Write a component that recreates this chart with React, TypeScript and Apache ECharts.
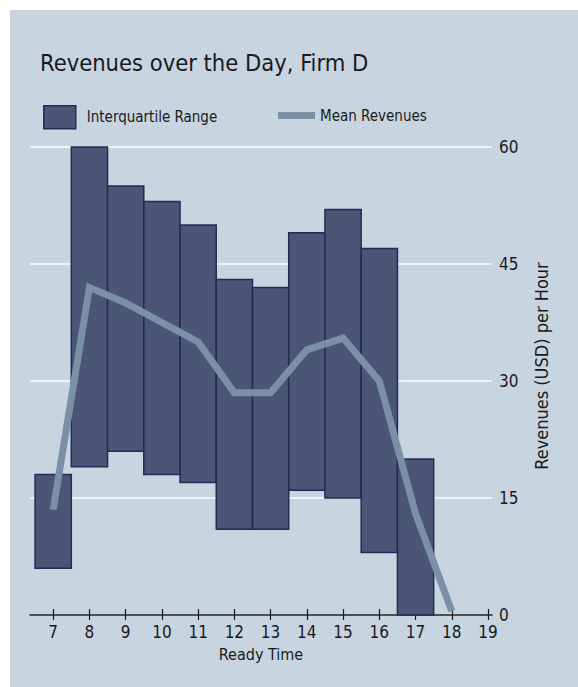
import React, { useEffect, useRef } from "react";
import * as echarts from "echarts";

const hours = [7, 8, 9, 10, 11, 12, 13, 14, 15, 16, 17];
const q1 = [6, 19, 21, 18, 17, 11, 11, 16, 15, 8, 0];
const q3 = [18, 60, 55, 53, 50, 43, 42, 49, 52, 47, 20];
const meanHours = [7, 8, 9, 10, 11, 12, 13, 14, 15, 16, 17, 18];
const meanValues = [13.5, 42, 40, 37.5, 35, 28.5, 28.5, 34, 35.5, 30, 13, 0.5];
const xTicks = [7, 8, 9, 10, 11, 12, 13, 14, 15, 16, 17, 18, 19];
const yTicks = [0, 15, 30, 45, 60];

const FONT = "'Liberation Sans Narrow', 'DejaVu Sans Condensed', sans-serif";
const BG = "#c8d4e0";
const BAR = "#4b5576";
const BAR_EDGE = "#232c55";
const LINE = "#7b8fa6";

export default function App() {
  const ref = useRef<HTMLDivElement>(null);
  useEffect(() => {
    document.body.style.margin = "0";
    const chart = echarts.init(ref.current!, null, { renderer: "svg" });
    const boxData = hours.map((h, i) => [h, q1[i], q3[i]]);
    const lineData = meanHours.map((h, i) => [h, meanValues[i]]);
    const xMin = 6.36;
    const xMax = 19.11;
    chart.setOption({
      animation: false,
      backgroundColor: "#ffffff",
      textStyle: { fontFamily: FONT },
      title: {
        text: "Revenues over the Day, Firm D",
        left: 35,
        top: 46,
        textStyle: { fontFamily: FONT, fontSize: 23.5, fontWeight: "normal", color: "#1a1a1a" },
      },
      graphic: [
        {
          type: "rect",
          z: -10,
          silent: true,
          shape: { x: 10, y: 10, width: 568, height: 677 },
          style: { fill: BG },
        },
        {
          type: "text",
          x: 541,
          y: 366,
          rotation: Math.PI / 2,
          style: {
            text: "Revenues (USD) per Hour",
            fontFamily: FONT,
            fontSize: 18,
            fill: "#1a1a1a",
            align: "center",
            verticalAlign: "middle",
          },
        },
      ],
      legend: [
        {
          left: 43,
          top: 105,
          padding: 0,
          itemWidth: 32,
          itemHeight: 23,
          icon: "rect",
          data: [{ name: "Interquartile Range", itemStyle: { color: BAR, borderColor: BAR_EDGE, borderWidth: 1.5 } }],
          textStyle: { fontFamily: FONT, fontSize: 15, color: "#1a1a1a", padding: [0, 0, 0, 6] },
        },
        {
          left: 278,
          top: 108,
          padding: 0,
          itemWidth: 37,
          itemHeight: 7,
          icon: "rect",
          data: [{ name: "Mean Revenues", itemStyle: { color: LINE } }],
          textStyle: { fontFamily: FONT, fontSize: 15, color: "#1a1a1a" },
        },
      ],
      grid: { left: 30, right: 578 - 492, top: 147, bottom: 687 - 615 },
      xAxis: [
        {
          type: "value",
          min: xMin,
          max: xMax,
          position: "bottom",
          name: "Ready Time",
          nameLocation: "middle",
          nameGap: 31,
          nameTextStyle: { fontFamily: FONT, fontSize: 16, color: "#1a1a1a" },
          splitLine: { show: false },
          axisLine: { show: true, lineStyle: { color: "#1a1a1a", width: 1.5 } },
          axisTick: {
            show: true,
            inside: false,
            length: 5,
            lineStyle: { color: "#1a1a1a", width: 1.2 },
            customValues: xTicks,
          },
          axisLabel: {
            fontFamily: FONT,
            fontSize: 17,
            color: "#1a1a1a",
            margin: 8,
            customValues: xTicks,
          },
        },
        {
          type: "value",
          min: xMin,
          max: xMax,
          position: "bottom",
          splitLine: { show: false },
          axisLine: { show: false },
          axisLabel: { show: false },
          axisTick: {
            show: true,
            inside: true,
            length: 6,
            lineStyle: { color: "#1a1a1a", width: 1.2 },
            customValues: xTicks,
          },
        },
      ],
      yAxis: {
        type: "value",
        position: "right",
        min: 0,
        max: 60,
        interval: 15,
        axisLine: { show: false },
        axisTick: { show: false },
        axisLabel: {
          fontFamily: FONT,
          fontSize: 17,
          color: "#1a1a1a",
          margin: 7,
          customValues: yTicks,
        },
        splitLine: { show: true, lineStyle: { color: "#ffffff", width: 1.5 } },
      },
      series: [
        {
          name: "Interquartile Range",
          type: "custom",
          xAxisIndex: 0,
          renderItem: (params: any, api: any) => {
            const x = api.value(0);
            const lo = api.value(1);
            const hi = api.value(2);
            const p1 = api.coord([x - 0.5, hi]);
            const p2 = api.coord([x + 0.5, lo]);
            return {
              type: "rect",
              shape: { x: p1[0], y: p1[1], width: p2[0] - p1[0], height: p2[1] - p1[1] },
              style: { fill: BAR, stroke: BAR_EDGE, lineWidth: 1.5 },
            };
          },
          encode: { x: 0, y: [1, 2] },
          data: boxData,
          z: 2,
        },
        {
          name: "Mean Revenues",
          type: "line",
          xAxisIndex: 0,
          data: lineData,
          showSymbol: false,
          symbol: "none",
          lineStyle: { color: LINE, width: 7, cap: "butt", join: "miter" },
          itemStyle: { color: LINE },
          z: 3,
        },
      ],
    });
    return () => chart.dispose();
  }, []);
  return <div ref={ref} style={{ width: 578, height: 687 }} />;
}
